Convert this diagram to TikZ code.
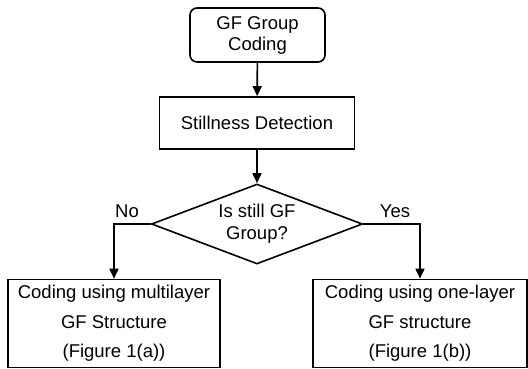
\documentclass[tikz,border=0pt]{standalone}
\usepackage{fontspec}
\setmainfont{Liberation Sans}
\usetikzlibrary{shapes.geometric,arrows.meta}
\begin{document}
\begin{tikzpicture}[x=1pt,y=-1pt,
  box/.style={draw, line width=1.6pt, inner sep=0pt, align=center, font=\fontsize{18.5}{21}\selectfont},
  rbox/.style={box, rounded corners=7pt},
  decision/.style={draw, diamond, line width=1.6pt, inner sep=0pt, shape aspect=2.64,
     align=center, font=\fontsize{18.5}{22}\selectfont},
  flow/.style={line width=1.6pt, -{Triangle[length=10pt,width=9pt]}},
  tag/.style={font=\fontsize{18.5}{21}\selectfont, inner sep=0pt}]
  \useasboundingbox (0,0) rectangle (528,368);
  % process boxes
  \node[rbox, minimum width=135pt, minimum height=54pt] (start) at (257.5,35) {GF Group\\Coding};
  \node[box, minimum width=195pt, minimum height=52pt] (still) at (257,123) {Stillness Detection};
  \node[decision, minimum width=211pt, minimum height=80pt] (dec) at (257,224) {Is still GF\\Group?};
  \node[box, minimum width=212pt, minimum height=88pt, font=\fontsize{18.5}{29.5}\selectfont]
     (multi) at (114,323.5) {Coding using multilayer\\GF Structure\\(Figure 1(a))};
  \node[box, minimum width=214pt, minimum height=88pt, font=\fontsize{18.5}{29.5}\selectfont]
     (one) at (420,323.5) {Coding using one-layer\\GF structure\\(Figure 1(b))};
  % connectors
  \draw[flow] (start) -- (still);
  \draw[flow] (still) -- (dec);
  \draw[flow] (dec.west) -| (multi.north);
  \draw[flow] (dec.east) -| (one.north);
  % branch labels
  \node[tag] (no) at (127,211) {No};
  \node[tag] (yes) at (395,211) {Yes};
\end{tikzpicture}
\end{document}
